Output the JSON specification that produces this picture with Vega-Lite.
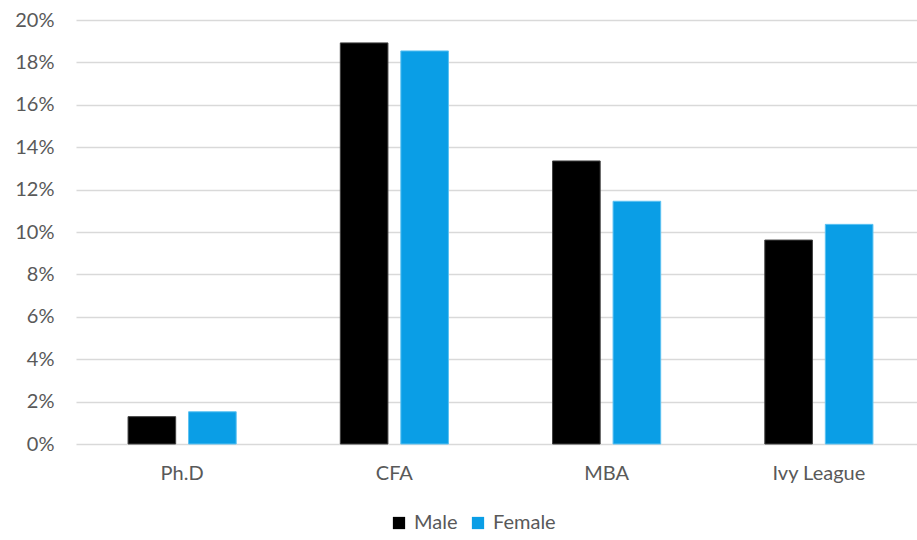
{
  "$schema": "https://vega.github.io/schema/vega-lite/v6.json",
  "width": 841,
  "height": 424,
  "autosize": {"type": "none"},
  "padding": {"left": 76, "top": 20, "right": 0, "bottom": 96},
  "background": "white",
  "config": {
    "view": {"stroke": null},
    "font": "Lato",
    "axis": {"labelFont": "Lato", "labelColor": "#595959", "labelFontSize": 20},
    "legend": {"labelFont": "Lato", "labelColor": "#595959", "labelFontSize": 20}
  },
  "data": {
    "values": [
      {"degree": "Ph.D", "gender": "Male", "share": 0.0129},
      {"degree": "Ph.D", "gender": "Female", "share": 0.0152},
      {"degree": "CFA", "gender": "Male", "share": 0.1892},
      {"degree": "CFA", "gender": "Female", "share": 0.1854},
      {"degree": "MBA", "gender": "Male", "share": 0.1335},
      {"degree": "MBA", "gender": "Female", "share": 0.1145},
      {"degree": "Ivy League", "gender": "Male", "share": 0.0962},
      {"degree": "Ivy League", "gender": "Female", "share": 0.1036}
    ]
  },
  "mark": {"type": "bar", "strokeWidth": 1, "clip": false},
  "encoding": {
    "x": {
      "field": "degree",
      "type": "nominal",
      "sort": ["Ph.D", "CFA", "MBA", "Ivy League"],
      "scale": {"paddingInner": 0, "paddingOuter": 0, "range": [0, 849]},
      "axis": {
        "title": null,
        "labelAngle": 0,
        "domain": false,
        "ticks": false,
        "labelPadding": 19
      }
    },
    "xOffset": {
      "field": "gender",
      "type": "nominal",
      "sort": ["Male", "Female"],
      "scale": {"paddingInner": 0.213, "paddingOuter": 0.86}
    },
    "y": {
      "field": "share",
      "type": "quantitative",
      "scale": {"domain": [0, 0.2], "nice": false},
      "axis": {
        "title": null,
        "format": ".0%",
        "values": [0, 0.02, 0.04, 0.06, 0.08, 0.1, 0.12, 0.14, 0.16, 0.18, 0.2],
        "domain": false,
        "ticks": false,
        "labelPadding": 22,
        "gridColor": "#d9d9d9",
        "gridWidth": 1.5
      }
    },
    "color": {
      "field": "gender",
      "type": "nominal",
      "sort": ["Male", "Female"],
      "scale": {"domain": ["Male", "Female"], "range": ["#000000", "#0a9ee6"]},
      "legend": {
        "title": null,
        "orient": "none",
        "direction": "horizontal",
        "legendX": 313,
        "legendY": 493,
        "symbolType": "square",
        "symbolSize": 150,
        "symbolStrokeWidth": 0,
        "symbolOpacity": 1,
        "labelOffset": 5,
        "columnPadding": 10
      }
    },
    "stroke": {
      "field": "gender",
      "type": "nominal",
      "sort": ["Male", "Female"],
      "scale": {"domain": ["Male", "Female"], "range": ["#404040", "#5cc2f2"]},
      "legend": null
    }
  }
}
